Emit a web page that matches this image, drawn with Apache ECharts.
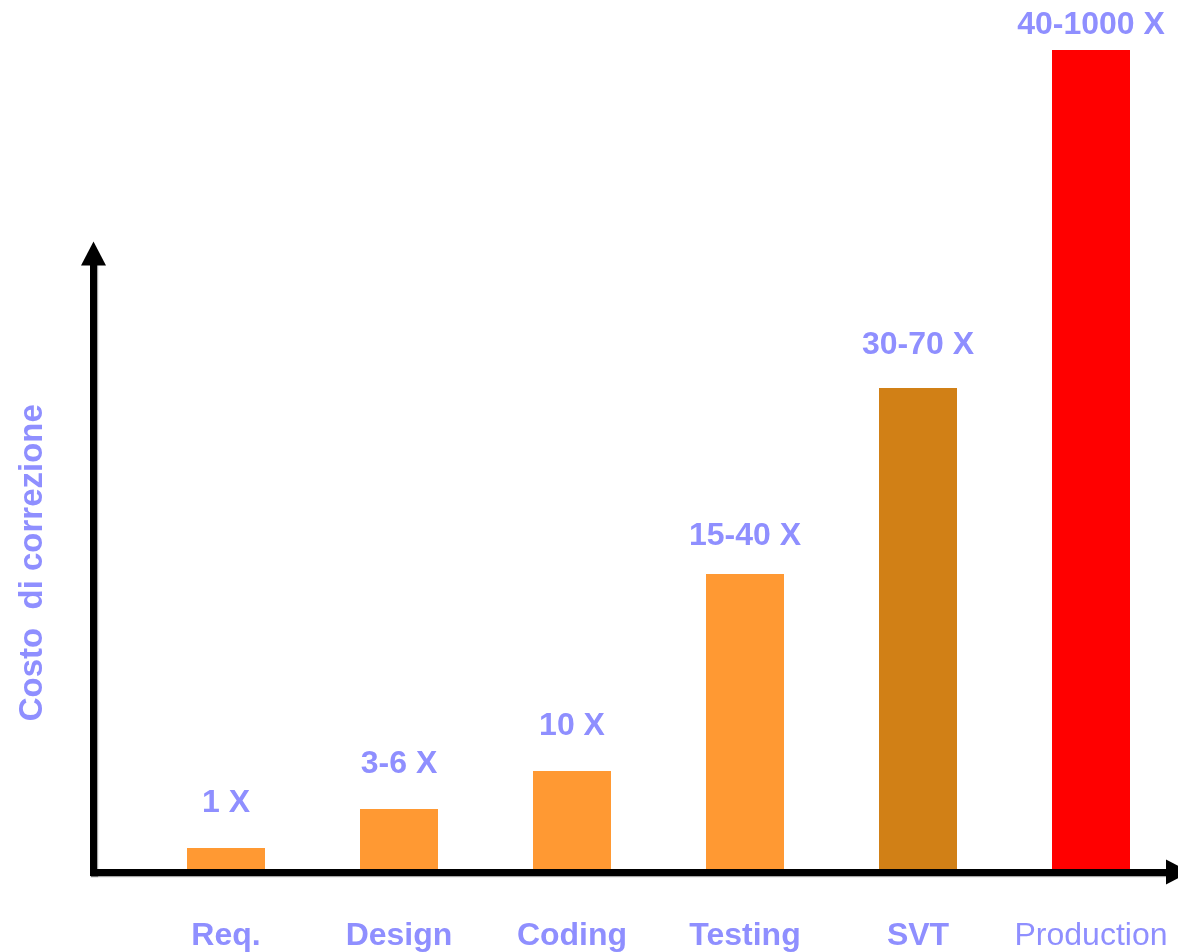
<!DOCTYPE html>
<html>
<head>
<meta charset="utf-8">
<title>Costo di correzione</title>
<script src="https://cdn.jsdelivr.net/npm/echarts@6/dist/echarts.min.js"></script>
<style>
  html, body { margin: 0; padding: 0; background: #ffffff; }
  #chart { width: 1178px; height: 952px; }
</style>
</head>
<body>
<div id="chart"></div>
<script>
// Phases of the project life cycle
const phases = ['Req.', 'Design', 'Coding', 'Testing', 'SVT', 'Production'];
// Relative height of each bar (arbitrary cost units)
const barHeights = [23, 62, 100, 297, 483, 821];
// Cost multiplier written above each bar
const costLabels = ['1 X', '3-6 X', '10 X', '15-40 X', '30-70 X', '40-1000 X'];
// Bar fill per phase
const barColors = ['#FF9933', '#FF9933', '#FF9933', '#FF9933', '#D18016', '#FF0000'];

const textColor = '#8F8FFF';
const font = '"Liberation Sans", Arial, sans-serif';
// distance from the bar top to the middle of its label
const labelLift = [45, 45, 45, 38, 43, 25];

const chart = echarts.init(document.getElementById('chart'), null, { renderer: 'canvas' });

const axisLineStyle = {
  color: '#000000',
  width: 7,
  cap: 'square',
  shadowColor: 'rgba(0,0,0,0.35)',
  shadowBlur: 1,
  shadowOffsetX: 1,
  shadowOffsetY: 1
};

chart.setOption({
  animation: false,
  backgroundColor: '#ffffff',
  grid: [
    // plotting area for the bars
    { left: 139.5, right: 0.5, top: 21, bottom: 81 },
    // frame carrying the two arrowed axes
    { left: 93.5, right: -6, top: 253.5, bottom: 80 }
  ],
  xAxis: [
    {
      type: 'category',
      gridIndex: 0,
      data: phases,
      axisLine: { show: false },
      axisTick: { show: false },
      axisLabel: {
        interval: 0,
        hideOverlap: false,
        margin: 65,
        verticalAlign: 'middle',
        fontFamily: font,
        fontSize: 32,
        color: textColor,
        formatter: function (v) {
          return v === 'Production' ? '{reg|' + v + '}' : '{b|' + v + '}';
        },
        rich: {
          b: { fontFamily: font, fontSize: 32, fontWeight: 'bold', color: textColor },
          reg: { fontFamily: font, fontSize: 32, fontWeight: 'normal', color: textColor }
        }
      }
    },
    {
      type: 'value',
      gridIndex: 1,
      min: 0,
      max: 1,
      z: 5,
      axisLine: {
        show: true,
        symbol: ['none', 'triangle'],
        symbolSize: [25, 24],
        lineStyle: axisLineStyle
      },
      axisTick: { show: false },
      axisLabel: { show: false },
      splitLine: { show: false }
    }
  ],
  yAxis: [
    {
      type: 'value',
      gridIndex: 0,
      min: 0,
      max: 850,
      show: false
    },
    {
      type: 'value',
      gridIndex: 1,
      min: 0,
      max: 1,
      z: 5,
      name: 'Costo  di correzione',
      nameLocation: 'middle',
      nameGap: 44,
      nameTextStyle: {
        fontFamily: font,
        fontSize: 33,
        fontWeight: 'bold',
        color: textColor
      },
      axisLine: {
        show: true,
        symbol: ['none', 'triangle'],
        symbolSize: [25, 24],
        lineStyle: axisLineStyle
      },
      axisTick: { show: false },
      axisLabel: { show: false },
      splitLine: { show: false }
    }
  ],
  series: [
    {
      type: 'bar',
      xAxisIndex: 0,
      yAxisIndex: 0,
      barWidth: 78,
      z: 2,
      data: barHeights.map(function (h, i) {
        return {
          value: h,
          itemStyle: { color: barColors[i] },
          label: {
            show: true,
            position: 'top',
            distance: labelLift[i],
            verticalAlign: 'middle',
            formatter: costLabels[i],
            fontFamily: font,
            fontSize: 32,
            fontWeight: 'bold',
            color: textColor
          }
        };
      })
    }
  ]
});
</script>
</body>
</html>
